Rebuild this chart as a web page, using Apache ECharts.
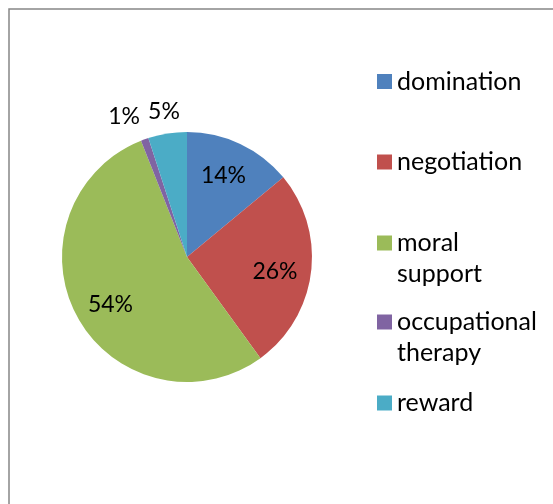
<!DOCTYPE html>
<html>
<head>
<meta charset="utf-8">
<script src="https://cdn.jsdelivr.net/npm/echarts@6/dist/echarts.min.js"></script>
<style>
  html, body { margin: 0; padding: 0; background: #fff; }
  #chart { width: 553px; height: 504px; }
</style>
</head>
<body>
<div id="chart"></div>
<script>
// chart data
const categories = ['domination', 'negotiation', 'moral support', 'occupational therapy', 'reward'];
const legendLabels = ['domination', 'negotiation', 'moral\nsupport', 'occupational\ntherapy', 'reward'];
const values = [14, 26, 54, 1, 5];
const colors = ['#4F81BD', '#C0504D', '#9BBB59', '#8064A2', '#4BACC6'];

// layout: legend icon centre y, label nudges from the default inside spot
const legendCenters = [81.5, 162, 243, 322, 403];
const labelNudge = [[8.6, -21.7], [23, 6.3], [-19.1, 16.4], [-40.8, -78.4], [-12.8, -80.3]];

const font = 'Lato';
const lineH = 31;

const chart = echarts.init(document.getElementById('chart'));

const legends = categories.map((name, i) => {
  const twoLines = legendLabels[i].indexOf('\n') >= 0;
  // an empty first line keeps the icon level with the first line of text
  const text = twoLines ? ' \n' + legendLabels[i] : legendLabels[i];
  return {
    orient: 'vertical',
    left: 377,
    top: legendCenters[i] - (twoLines ? 1.5 * lineH : 0.5 * lineH),
    padding: 0,
    itemWidth: 15,
    itemHeight: 15,
    itemGap: 0,
    icon: 'rect',
    selectedMode: false,
    data: [name],
    formatter: () => text,
    textStyle: {
      fontFamily: font,
      fontSize: 25,
      color: '#000',
      lineHeight: lineH
    }
  };
});

chart.setOption({
  animation: false,
  color: colors,
  graphic: [{
    type: 'rect',
    shape: { x: 9, y: 9, width: 700, height: 700 },
    style: { fill: 'none', stroke: '#878787', lineWidth: 1.5 },
    silent: true
  }],
  legend: legends,
  series: [{
    type: 'pie',
    center: [187, 257],
    radius: 125,
    startAngle: 90,
    clockwise: true,
    avoidLabelOverlap: false,
    label: {
      show: true,
      position: 'inside',
      formatter: '{d}%',
      fontFamily: font,
      fontSize: 23,
      color: '#000'
    },
    labelLine: { show: false },
    labelLayout: (p) => ({ dx: labelNudge[p.dataIndex][0], dy: labelNudge[p.dataIndex][1] }),
    itemStyle: { borderWidth: 0 },
    emphasis: { disabled: true },
    data: categories.map((name, i) => ({ name: name, value: values[i] }))
  }]
});

window.addEventListener('resize', () => chart.resize());
</script>
</body>
</html>
